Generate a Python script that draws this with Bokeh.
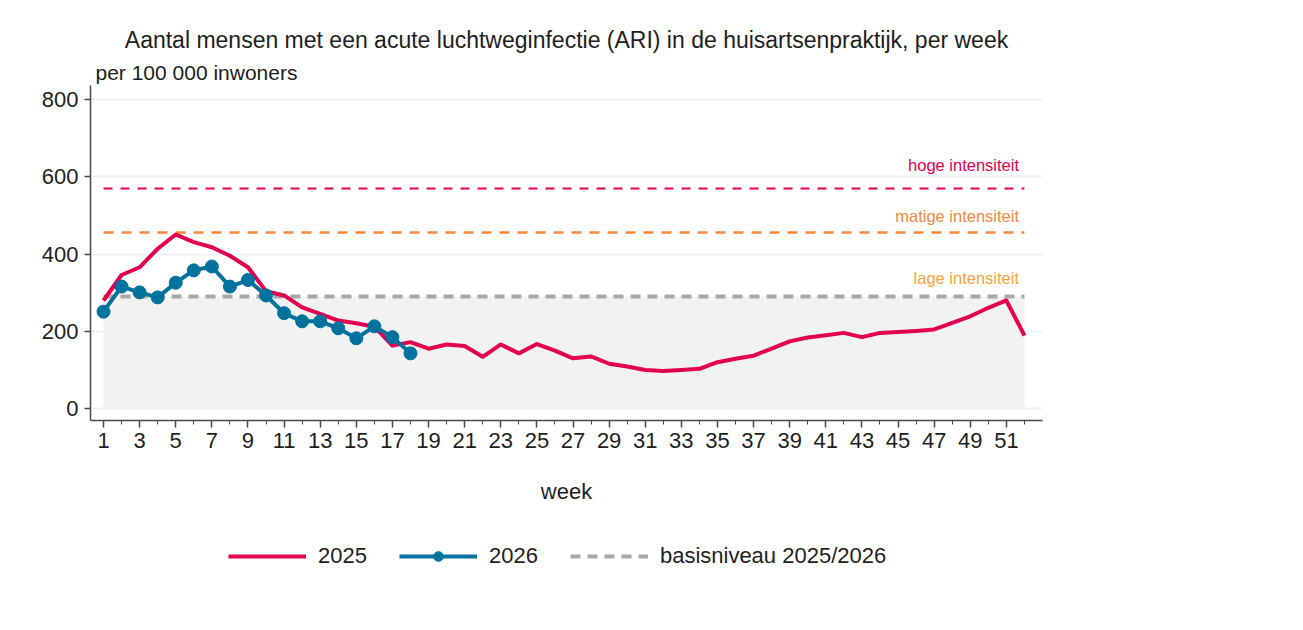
from bokeh.plotting import figure
from bokeh.layouts import column
from bokeh.models import (Range1d, FixedTicker, Legend, LegendItem, Label, Title)
from bokeh.embed import file_html
from bokeh.resources import INLINE

# ---- data ----
weeks_2025 = list(range(1, 53))
ari_2025 = [280, 346, 366, 414, 451, 431, 418, 396, 366, 304,
            293, 262, 245, 228, 221, 212, 163, 172, 155, 166,
            162, 134, 166, 143, 167, 150, 130, 135, 116, 109,
            100, 97, 100, 103, 120, 129, 137, 155, 174, 184,
            190, 196, 185, 196, 198, 201, 205, 222, 239, 261,
            280, 189]
weeks_2026 = list(range(1, 19))
ari_2026 = [251, 316, 301, 288, 326, 358, 368, 316, 333, 293,
            247, 226, 226, 208, 182, 213, 185, 143]
basis_level = 290
matige_level = 456
hoge_level = 570
x_ticks = list(range(1, 52, 2))
x_minor = list(range(2, 53, 2))
y_ticks = [0, 200, 400, 600, 800]
legend_labels = ["2025", "2026", "basisniveau 2025/2026"]

FONT = "Liberation Sans"
RED = "#e2004f"
BLUE = "#00729e"
GREY = "#a8a8a8"
HOGE = "#e8004f"
MATIGE = "#f58a3c"
LAGE = "#f7a43a"
TXT = "#1e1e1e"

p = figure(frame_width=952, frame_height=335, output_backend="svg", toolbar_location=None,
           x_range=Range1d(0.28, 53.0), y_range=Range1d(-31, 837),
           min_border_left=90, min_border_right=21, min_border_top=85,
           min_border_bottom=95, background_fill_color="white",
           border_fill_color="white", outline_line_color=None)

# titles
p.title.text = "Aantal mensen met een acute luchtweginfectie (ARI) in de huisartsenpraktijk, per week"
p.title.align = "center"
p.title.text_font = FONT
p.title.text_font_size = "23px"
p.title.text_font_style = "normal"
p.title.text_color = TXT
sub_title = Title(text="per 100 000 inwoners", align="left", offset=5,
                  text_font=FONT, text_font_size="21px",
                  text_font_style="normal", text_color=TXT, standoff=3)
p.add_layout(sub_title, "above")

# grid
p.xgrid.visible = False
p.ygrid.grid_line_color = "#edf4f5"
p.ygrid.grid_line_width = 2

# axes
p.yaxis.ticker = FixedTicker(ticks=y_ticks)
p.xaxis.ticker = FixedTicker(ticks=x_ticks, minor_ticks=x_minor)
for ax in (p.xaxis[0], p.yaxis[0]):
    ax.axis_line_color = "#4a4a4a"
    ax.axis_line_width = 1.5
    ax.major_tick_line_color = "#4a4a4a"
    ax.major_tick_line_width = 1.5
    ax.minor_tick_line_color = "#4a4a4a"
    ax.major_tick_in = 0
    ax.minor_tick_in = 0
    ax.major_label_text_font = FONT
    ax.major_label_text_font_size = "22px"
    ax.major_label_text_color = TXT
p.yaxis.major_tick_out = 6
p.yaxis.minor_tick_out = 0
p.yaxis.major_label_standoff = 6
p.xaxis.major_tick_out = 7
p.xaxis.minor_tick_out = 4
p.xaxis.major_label_standoff = 5
p.xaxis.axis_label = "week"
p.xaxis.axis_label_text_font = FONT
p.xaxis.axis_label_text_font_size = "22px"
p.xaxis.axis_label_text_font_style = "normal"
p.xaxis.axis_label_text_color = TXT
p.xaxis.axis_label_standoff = 28

# baseline band
p.varea(x=[weeks_2025[0], weeks_2025[-1]], y1=[0, 0], y2=[basis_level, basis_level],
        fill_color="#f2f2f2")

# threshold lines
xs = [weeks_2025[0], weeks_2025[-1]]
BASIS_STYLE = dict(line_color=GREY, line_width=4, line_dash="10 7")
RED_STYLE = dict(line_color=RED, line_width=4, line_join="round")
BLUE_STYLE = dict(line_color=BLUE, line_width=4, line_join="round")
p.line(xs, [basis_level] * 2, **BASIS_STYLE)
p.line(xs, [hoge_level] * 2, line_color=HOGE, line_width=2, line_dash="9 8")
p.line(xs, [matige_level] * 2, line_color=MATIGE, line_width=2.5, line_dash="10 8")

# series
p.line(weeks_2025, ari_2025, **RED_STYLE)
p.line(weeks_2026, ari_2026, **BLUE_STYLE)
p.scatter(weeks_2026, ari_2026, size=13, fill_color=BLUE, line_color=BLUE)

# annotations
lx = weeks_2025[-1] - 0.3
for txt, lvl, col, off in [("hoge intensiteit", hoge_level, HOGE, 62),
                           ("matige intensiteit", matige_level, MATIGE, 44),
                           ("lage intensiteit", basis_level, LAGE, 47)]:
    p.add_layout(Label(x=lx, y=lvl + off, text=txt, text_align="right",
                       text_baseline="middle", text_font=FONT,
                       text_font_size="16.5px", text_color=col))

# ---- legend strip (separate figure below the chart) ----
# the same series are drawn here outside the visible range, only to feed the legend
q = figure(frame_width=1063, frame_height=85, output_backend="svg", toolbar_location=None,
           x_range=Range1d(-2, -1), y_range=Range1d(-2, -1),
           min_border=0, background_fill_color="white",
           border_fill_color="white", outline_line_color=None)
q.axis.visible = False
q.grid.visible = False
l25 = q.line(weeks_2025, ari_2025, **RED_STYLE)
l26 = q.line(weeks_2026, ari_2026, **BLUE_STYLE)
m26 = q.scatter(weeks_2026, ari_2026, size=11, fill_color=BLUE, line_color=BLUE)
lb = q.line(xs, [basis_level] * 2, **BASIS_STYLE)
legend = Legend(items=[LegendItem(label=legend_labels[0], renderers=[l25]),
                       LegendItem(label=legend_labels[1], renderers=[l26, m26]),
                       LegendItem(label=legend_labels[2], renderers=[lb])],
                orientation="horizontal", location=(228, 31),
                glyph_width=78, glyph_height=24, label_standoff=12, spacing=32,
                label_height=24,
                label_text_font=FONT, label_text_font_size="22px",
                label_text_color=TXT, border_line_color=None,
                background_fill_alpha=0, margin=0, padding=0)
q.add_layout(legend, "center")

open("out.html", "w").write(file_html(column(p, q, spacing=0), INLINE))
